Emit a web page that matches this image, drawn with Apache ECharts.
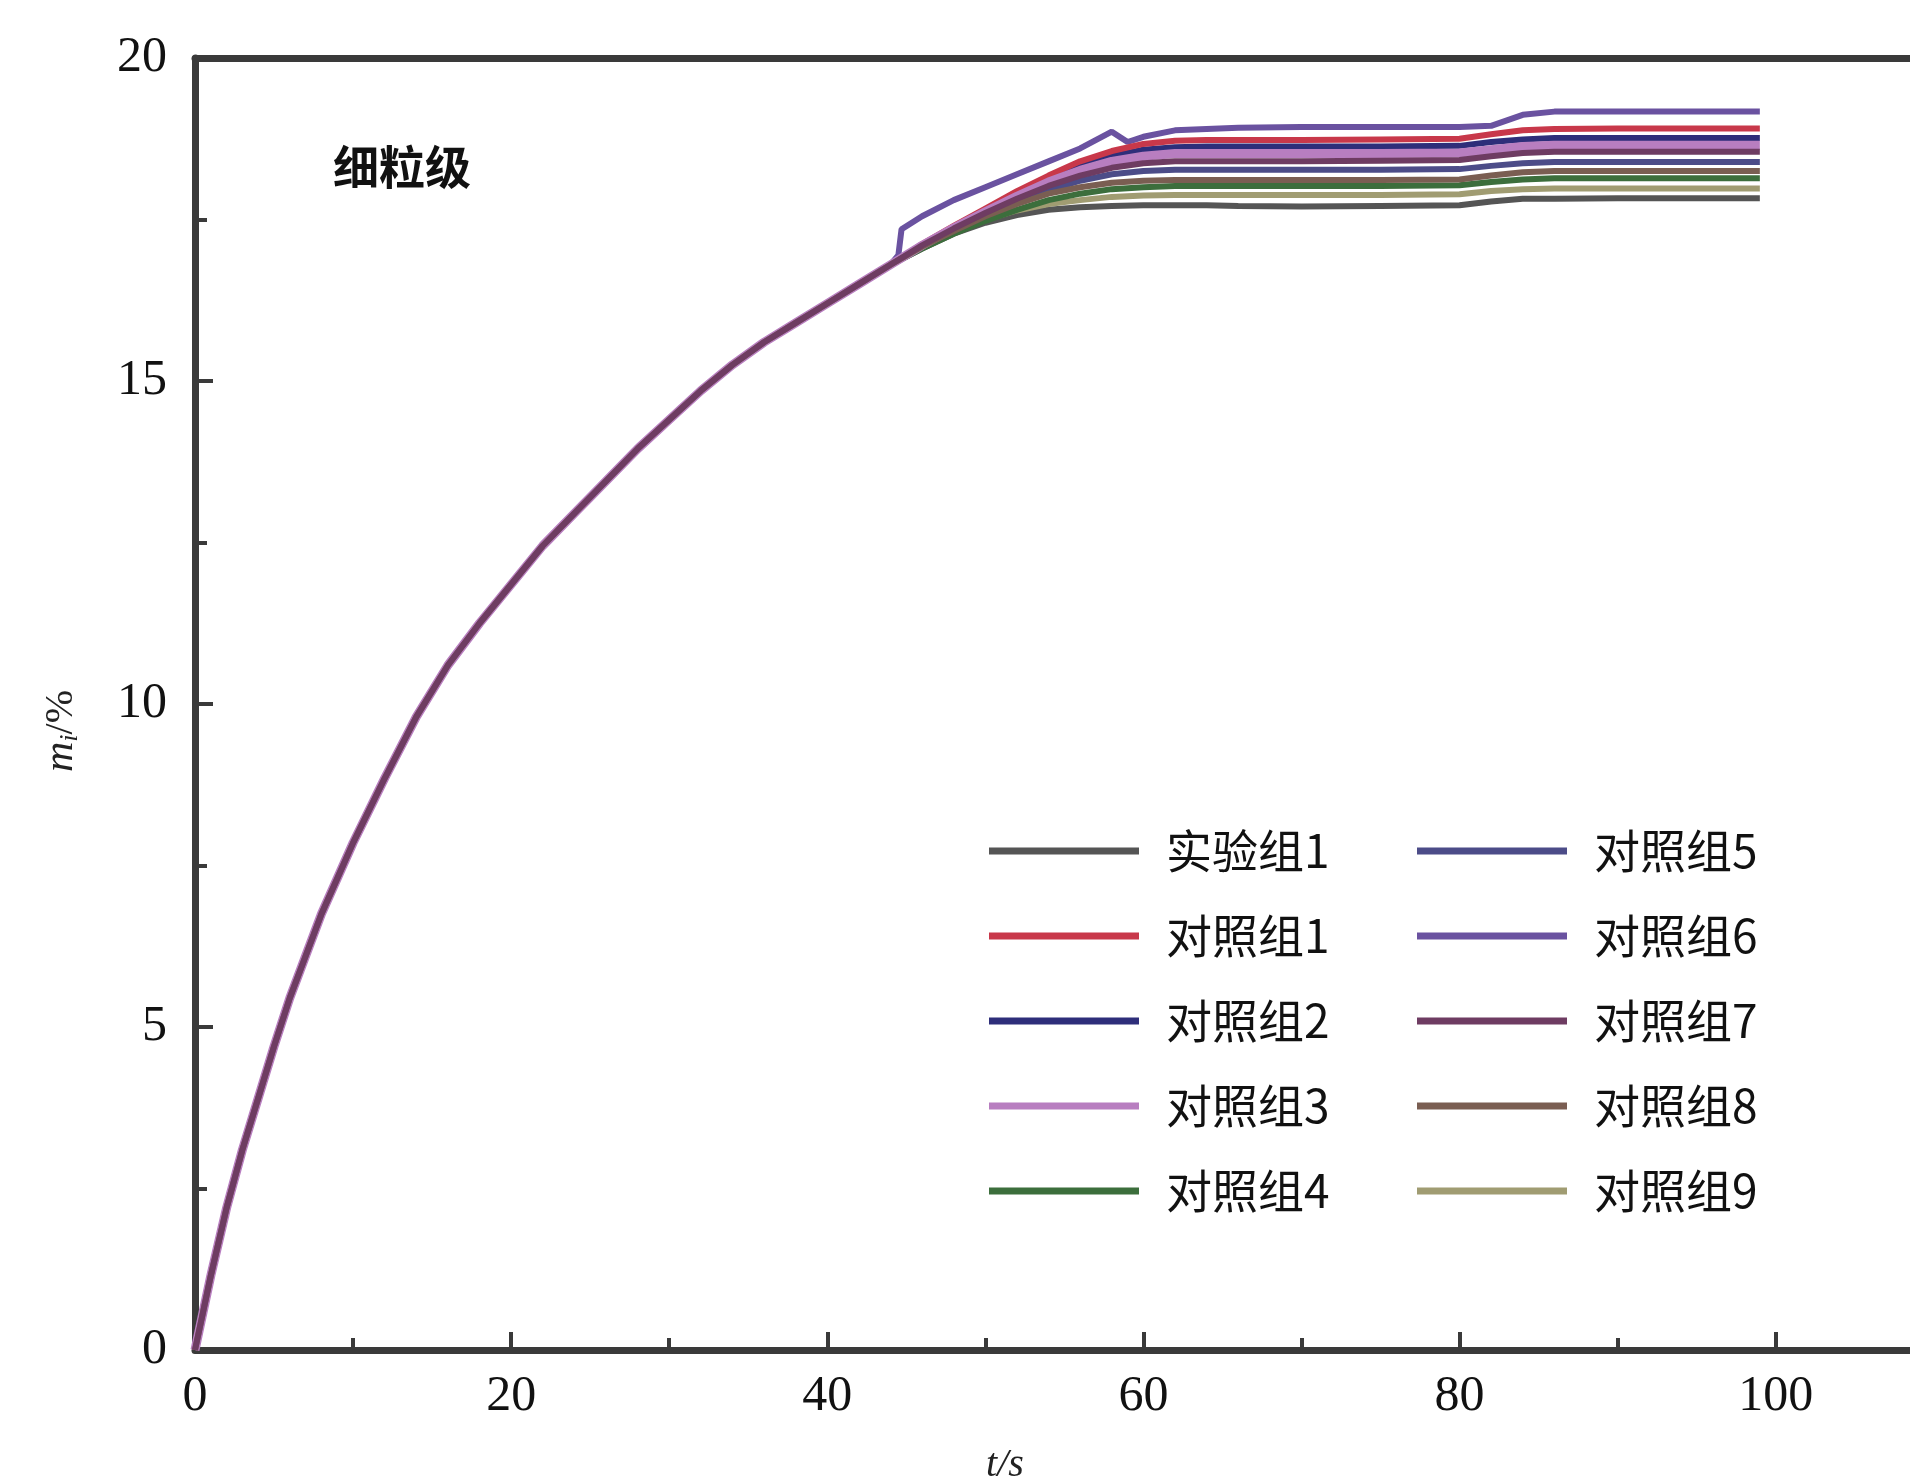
<!DOCTYPE html>
<html>
<head>
<meta charset="utf-8">
<script src="https://cdn.jsdelivr.net/npm/echarts@6/dist/echarts.min.js"></script>
<style>
html,body{margin:0;padding:0;background:#fff;}
#main{width:1910px;height:1483px;}
</style>
</head>
<body>
<div id="main"></div>
<script>
// ---- data ----
const seriesNames = ['实验组1','对照组1','对照组2','对照组3','对照组4','对照组5','对照组6','对照组7','对照组8','对照组9'];
const xMajorTicks = [0,20,40,60,80,100];
const xMinorTicks = [10,30,50,70,90];
const yTicks = [0,5,10,15,20];

// shared rising part (all curves overlap until ~44 s)
const tBase = [0,1,2,3,4,5,6,7,8,9,10,12,14,16,18,20,22,24,26,28,30,32,34,36,38,40,42,44];
const yBase = [0,1.15,2.2,3.1,3.9,4.7,5.45,6.1,6.75,7.3,7.85,8.85,9.8,10.6,11.25,11.85,12.45,12.95,13.45,13.95,14.4,14.85,15.25,15.6,15.9,16.2,16.5,16.8];

// diverging tails
const tTail = [46,48,50,52,54,56,58,60,62,64,66,70,75,80,82,84,86,90,95,99];
const tail_exp1 = [17.05,17.28,17.45,17.57,17.65,17.69,17.71,17.72,17.72,17.72,17.71,17.70,17.71,17.72,17.78,17.82,17.82,17.83,17.83,17.83];
const tail_c1   = [17.12,17.40,17.67,17.94,18.18,18.40,18.56,18.67,18.72,18.73,18.73,18.73,18.74,18.75,18.82,18.88,18.90,18.91,18.91,18.91];
const tail_c2   = [17.10,17.38,17.64,17.90,18.13,18.33,18.48,18.58,18.62,18.63,18.63,18.63,18.63,18.64,18.70,18.74,18.76,18.76,18.76,18.76];
const tail_c3   = [17.10,17.37,17.62,17.86,18.08,18.26,18.40,18.48,18.52,18.52,18.52,18.52,18.52,18.53,18.58,18.63,18.65,18.65,18.65,18.65];
const tail_c4   = [17.05,17.28,17.48,17.65,17.80,17.90,17.97,18.00,18.02,18.02,18.02,18.02,18.02,18.03,18.08,18.12,18.14,18.14,18.14,18.14];
const tail_c5   = [17.08,17.33,17.57,17.78,17.95,18.10,18.20,18.25,18.27,18.27,18.27,18.27,18.27,18.28,18.33,18.37,18.39,18.39,18.39,18.39];
const tail_c7   = [17.10,17.36,17.60,17.82,18.02,18.18,18.30,18.37,18.40,18.40,18.40,18.40,18.41,18.42,18.48,18.53,18.55,18.55,18.55,18.55];
const tail_c8   = [17.08,17.32,17.55,17.74,17.90,18.00,18.07,18.10,18.11,18.11,18.11,18.11,18.11,18.12,18.18,18.23,18.25,18.25,18.25,18.25];
const tail_c9   = [17.06,17.30,17.50,17.64,17.74,17.80,17.85,17.87,17.88,17.88,17.88,17.88,17.88,17.89,17.94,17.97,17.98,17.98,17.98,17.98];
// 对照组6 jumps above the bundle at ~44.6 s
const tWing = [44.5,44.7,46,48,50,52,54,56,58,59,60,62,66,70,75,80,82,84,86,90,95,99];
const tail_c6 = [16.95,17.35,17.55,17.80,18.00,18.20,18.40,18.60,18.86,18.70,18.78,18.88,18.92,18.93,18.93,18.93,18.95,19.12,19.17,19.17,19.17,19.17];

const colors = {
  '实验组1':'#555555','对照组1':'#c8384a','对照组2':'#2e2e7a','对照组3':'#b87ec0','对照组4':'#3c6e3c',
  '对照组5':'#4c4c88','对照组6':'#6a52a0','对照组7':'#6e3c62','对照组8':'#7a5e52','对照组9':'#a09c72'
};
const tails = {
  '实验组1':[tTail,tail_exp1],'对照组1':[tTail,tail_c1],'对照组2':[tTail,tail_c2],'对照组3':[tTail,tail_c3],
  '对照组4':[tTail,tail_c4],'对照组5':[tTail,tail_c5],'对照组6':[tWing,tail_c6],'对照组7':[tTail,tail_c7],
  '对照组8':[tTail,tail_c8],'对照组9':[tTail,tail_c9]
};
// drawing order (last drawn on top)
const drawOrder = ['对照组6','实验组1','对照组9','对照组4','对照组5','对照组2','对照组1','对照组3','对照组8','对照组7'];

function buildData(name){
  const pts = tBase.map((t,i)=>[t,yBase[i]]);
  const [tt,yy] = tails[name];
  tt.forEach((t,i)=>pts.push([t,yy[i]]));
  return pts;
}

const series = drawOrder.map(name=>({
  name: name,
  type: 'line',
  xAxisIndex: 0,
  yAxisIndex: 0,
  data: buildData(name),
  symbol: 'none',
  color: colors[name],
  lineStyle: {width: name==='对照组3'?9:6, color: colors[name]},
  itemStyle: {color: colors[name]}
}));

const axisColor = '#3a3a3a';
const legendCommon = {
  orient: 'vertical',
  top: 821,
  icon: 'rect',
  itemWidth: 150,
  itemHeight: 7,
  itemGap: 35,
  textStyle: {fontSize: 46, lineHeight: 50, color: '#111', fontFamily: '"Noto Sans CJK SC"', padding: [0,0,0,22]}
};

const chart = echarts.init(document.getElementById('main'), null, {renderer:'canvas'});
chart.setOption({
  animation: false,
  backgroundColor: '#ffffff',
  grid: {left: 195, right: 0, top: 58, bottom: 133, containLabel: false, outerBoundsMode: 'none'},
  legend: [
    Object.assign({left: 984, data: seriesNames.slice(0,5)}, legendCommon),
    Object.assign({left: 1412, data: seriesNames.slice(5)}, legendCommon)
  ],
  xAxis: [
    {
      type: 'value', min: 0, max: 108.5, position: 'bottom',
      splitLine: {show: false},
      axisLine: {show: true, onZero: false, lineStyle: {color: axisColor, width: 7}},
      axisTick: {show: true, inside: true, length: 18, lineStyle: {color: axisColor, width: 4}, customValues: xMajorTicks},
      axisLabel: {show: true, margin: 22, fontSize: 50, color: '#111', fontFamily: '"Liberation Serif"', customValues: xMajorTicks}
    },
    {
      type: 'value', min: 0, max: 108.5, position: 'bottom',
      splitLine: {show: false},
      axisLine: {show: false},
      axisTick: {show: true, inside: true, length: 12, lineStyle: {color: axisColor, width: 4}, customValues: xMinorTicks},
      axisLabel: {show: false}
    },
    {
      type: 'value', min: 0, max: 108.5, position: 'top',
      splitLine: {show: false},
      axisLine: {show: true, onZero: false, lineStyle: {color: axisColor, width: 7}},
      axisTick: {show: false},
      axisLabel: {show: false}
    }
  ],
  yAxis: [
    {
      type: 'value', min: 0, max: 20, interval: 5,
      splitLine: {show: false},
      axisLine: {show: true, onZero: false, lineStyle: {color: axisColor, width: 7}},
      axisTick: {show: true, inside: true, length: 18, lineStyle: {color: axisColor, width: 4}, customValues: yTicks},
      minorTick: {show: true, splitNumber: 2, length: 12, lineStyle: {color: axisColor, width: 4}},
      axisLabel: {show: true, margin: 28, fontSize: 50, color: '#111', fontFamily: '"Liberation Serif"', customValues: yTicks}
    }
  ],
  graphic: [
    {type: 'text', x: 402, y: 167, style: {text: '细粒级', fontSize: 46, fontWeight: 'bold', fontFamily: '"Noto Sans CJK SC"', fill: '#111', align: 'center', verticalAlign: 'middle'}},
    {type: 'text', x: 61, y: 731, rotation: Math.PI/2, style: {
      text: '{m|m}{i|i}{s|/%}', align: 'center', verticalAlign: 'middle',
      rich: {
        m: {fontSize: 42, fontStyle: 'italic', fontFamily: '"Liberation Serif"', fill: '#222'},
        i: {fontSize: 26, fontStyle: 'italic', fontFamily: '"Liberation Serif"', fill: '#222', padding: [18,0,0,0]},
        s: {fontSize: 40, fontFamily: '"Liberation Serif"', fill: '#222'}
      }
    }},
    {type: 'text', x: 1005, y: 1445, style: {text: 't/s', fontSize: 40, fontStyle: 'italic', fontFamily: '"Liberation Serif"', fill: '#222', align: 'center', verticalAlign: 'top'}}
  ],
  series: series
});
</script>
</body>
</html>
